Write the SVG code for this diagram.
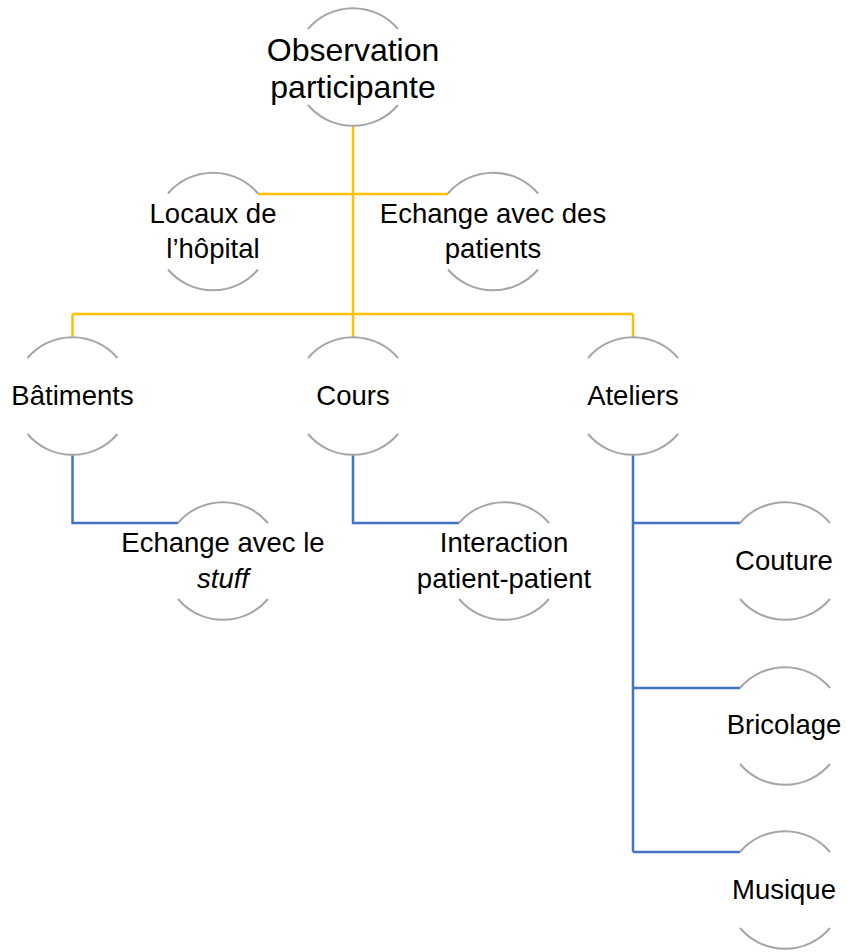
<svg xmlns="http://www.w3.org/2000/svg" width="847" height="952" viewBox="0 0 847 952">
<style>
.arc{fill:none;stroke:#A6A6A6;stroke-width:2}
.y{fill:none;stroke:#FFC000;stroke-width:2.5}
.b{fill:none;stroke:#4472C4;stroke-width:2.5}
text{font-family:"Liberation Sans",Arial,sans-serif;font-size:27.5px;fill:#000;text-anchor:middle}
.big{font-size:32px}
</style>
<rect width="847" height="952" fill="#fff"/>
<g id="connectors">
<path class="y" d="M353 126V314M258 194H448M72.5 314H633M72.5 314V337M633 314V337M353 314V337"/>
<path class="b" d="M72.5 455V523H178M353 455V523H459M633 455V852M633 523H740M633 688H740M633 852H740"/>
</g>
<g id="n-observation">
<path class="arc" d="M308 29A59 59 0 0 1 398 29M308 105A59 59 0 0 0 398 105"/>
<text class="big" x="353" y="61">Observation</text>
<text class="big" x="353" y="98">participante</text>
</g>
<g id="n-locaux">
<path class="arc" d="M168 193.5A59 59 0 0 1 258 193.5M168 269.5A59 59 0 0 0 258 269.5"/>
<text x="213" y="223">Locaux de</text>
<text x="213" y="258">l’hôpital</text>
</g>
<g id="n-echange-patients">
<path class="arc" d="M448 193.5A59 59 0 0 1 538 193.5M448 269.5A59 59 0 0 0 538 269.5"/>
<text x="493" y="223">Echange avec des</text>
<text x="493" y="258">patients</text>
</g>
<g id="n-batiments">
<path class="arc" d="M27.5 358A59 59 0 0 1 117.5 358M27.5 434A59 59 0 0 0 117.5 434"/>
<text x="72.5" y="405">Bâtiments</text>
</g>
<g id="n-cours">
<path class="arc" d="M308 358A59 59 0 0 1 398 358M308 434A59 59 0 0 0 398 434"/>
<text x="353" y="405">Cours</text>
</g>
<g id="n-ateliers">
<path class="arc" d="M588 358A59 59 0 0 1 678 358M588 434A59 59 0 0 0 678 434"/>
<text x="633" y="405">Ateliers</text>
</g>
<g id="n-echange-stuff">
<path class="arc" d="M178 523A59 59 0 0 1 268 523M178 599A59 59 0 0 0 268 599"/>
<text x="223" y="552">Echange avec le</text>
<text x="223" y="588" font-style="italic">stuff</text>
</g>
<g id="n-interaction">
<path class="arc" d="M459 523A59 59 0 0 1 549 523M459 599A59 59 0 0 0 549 599"/>
<text x="504" y="552">Interaction</text>
<text x="504" y="588">patient-patient</text>
</g>
<g id="n-couture">
<path class="arc" d="M740 523A59 59 0 0 1 830 523M740 599A59 59 0 0 0 830 599"/>
<text x="784" y="570">Couture</text>
</g>
<g id="n-bricolage">
<path class="arc" d="M740 688A59 59 0 0 1 830 688M740 764A59 59 0 0 0 830 764"/>
<text x="784" y="734">Bricolage</text>
</g>
<g id="n-musique">
<path class="arc" d="M740 852A59 59 0 0 1 830 852M740 928A59 59 0 0 0 830 928"/>
<text x="784" y="899">Musique</text>
</g>
</svg>
